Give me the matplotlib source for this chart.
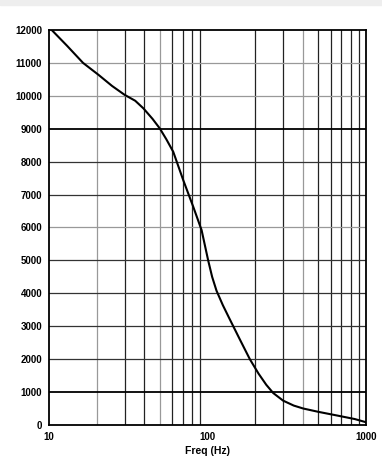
import matplotlib.pyplot as plt
from matplotlib.patches import Rectangle
from matplotlib.ticker import FixedLocator, NullLocator

freq = [10.4, 13, 16.4, 20.5, 25, 30, 35, 39.4, 45, 50, 55, 60.8, 70.3, 81.3, 91.8, 101,
        107, 114, 125, 137, 160, 185, 210, 235, 260, 300, 350, 402, 500, 686, 850, 990]
value = [12000, 11520, 11000, 10640, 10300, 10030, 9850, 9620, 9300, 9010, 8680, 8300,
         7440, 6630, 5920, 5000, 4500, 4080, 3640, 3250, 2600, 2000, 1560, 1220, 970,
         740, 590, 500, 400, 270, 180, 90]

y_ticks = list(range(0, 13000, 1000))
x_labels = [10, 100, 1000]
x_grid = [20, 30, 40, 50, 60, 70, 80, 90, 200, 300, 400, 500, 600, 700, 800, 900]
grey_x = [20, 50, 400]
grey_y = [11000, 10000, 6000]

font = ['Liberation Sans', 'DejaVu Sans']

fig = plt.figure(figsize=(3.82, 4.58), dpi=100)
fig.patches.append(Rectangle((0, 0.99), 1, 0.01, transform=fig.transFigure,
                             color='#eeeeee', zorder=0))
ax = fig.add_axes([0.1283, 0.0721, 0.8297, 0.8624])

for x in x_grid:
    c = '#999999' if x in grey_x else '#222222'
    ax.axvline(x, color=c, lw=0.9, zorder=1)
for y in y_ticks[1:-1]:
    if y in (1000, 9000):
        ax.axhline(y, color='black', lw=1.3, zorder=1)
    else:
        c = '#999999' if y in grey_y else '#333333'
        ax.axhline(y, color=c, lw=0.9, zorder=1)

ax.semilogx(freq, value, color='black', lw=1.5, zorder=3)

ax.set_xlim(10, 1000)
ax.set_ylim(0, 12000)
ax.xaxis.set_major_locator(FixedLocator(x_labels))
ax.xaxis.set_minor_locator(NullLocator())
ax.set_xticklabels([str(v) for v in x_labels], family=font, fontweight='bold', fontsize=7)
ax.set_yticks(y_ticks)
ax.set_yticklabels([str(v) for v in y_ticks], family=font, fontweight='bold', fontsize=7)
ax.tick_params(length=0, pad=5)
ax.set_xlabel('Freq (Hz)', family=font, fontweight='bold', fontsize=7.5, labelpad=3)
for s in ax.spines.values():
    s.set_linewidth(1.3)

fig.savefig('out.png', dpi=100)
